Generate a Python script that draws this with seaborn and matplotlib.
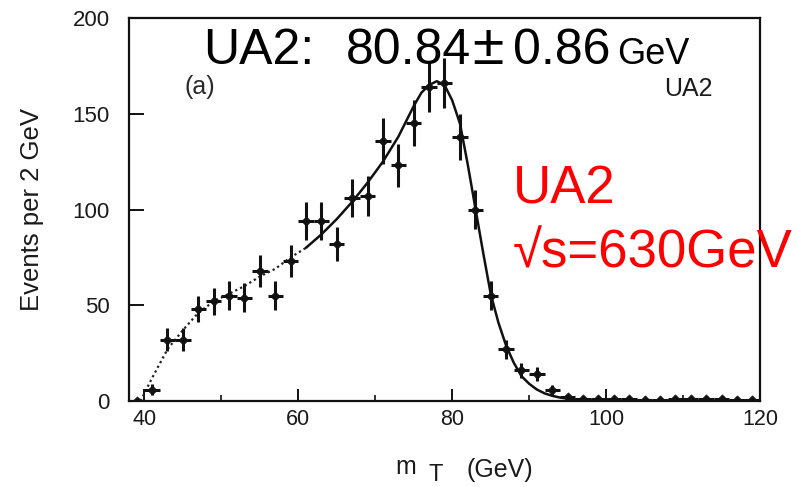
import numpy as np
import pandas as pd
import matplotlib
matplotlib.use("Agg")
import matplotlib.pyplot as plt
import seaborn as sns

# ---- data ----
mt_bins = [39, 41, 43, 45, 47, 49, 51, 53, 55, 57, 59, 61, 63, 65, 67, 69, 71, 73,
           75, 77, 79, 81, 83, 85, 87, 89, 91, 93, 95, 97, 99, 101, 103, 105, 107,
           109, 111, 113, 115, 117, 119]
events = [0, 6, 32, 32, 48, 52, 55, 54, 68, 55, 73, 94, 94, 82, 106, 107, 136, 123,
          145, 164, 166, 138, 100, 55, 27, 16, 14, 6, 2, 1, 1, 1, 1, 0.5, 0.5,
          1, 1, 1, 1, 0.5, 0.5]
event_err = [0.5, 3, 6, 6, 7, 7, 7.5, 7.5, 8.5, 7.5, 8.5, 10, 10, 9, 10, 10.5, 12, 11,
             12, 13, 13, 12, 10, 7.5, 5, 4, 3.5, 2.5, 1.2, 1, 1, 1, 1, 1, 1,
             1, 1, 1, 1, 1, 1]

fit_mt = [39.5, 41, 43, 45, 47, 49, 51, 53, 55, 57, 59, 61, 63, 65, 67, 69, 71, 73,
          74, 75, 76, 77, 78, 79, 80, 81, 82, 83, 84, 85, 86, 87, 88, 89, 90, 91,
          92, 93, 94, 95, 96, 98, 100, 110, 119.5]
fit_val = [0, 12, 27, 37, 46, 52, 56, 60, 65, 69, 75, 80, 87, 95, 104, 114, 125, 138,
           146, 154, 161, 165, 167, 165, 157, 145, 124, 101, 78, 56, 41, 29, 20, 13,
           9, 6, 4, 2.7, 1.8, 1.2, 0.7, 0.3, 0.2, 0.1, 0.1]
dotted_until = 61

x_ticks = [40, 60, 80, 100, 120]
x_minor = [50, 70, 90, 110]
y_ticks = [0, 50, 100, 150, 200]

df_pts = pd.DataFrame({"mt": mt_bins, "n": events, "err": event_err})
df_fit = pd.DataFrame({"mt": fit_mt, "n": fit_val})
df_fit_dot = df_fit[df_fit.mt <= dotted_until]
df_fit_sol = df_fit[df_fit.mt >= dotted_until]

sns.set_theme(style="ticks")
plt.rcParams["font.family"] = ["Liberation Sans", "DejaVu Sans"]

W, H = 797, 487
fig = plt.figure(figsize=(W / 100, H / 100), dpi=100)
ax = fig.add_axes([129 / W, 1 - 401 / H, (760 - 129) / W, (401 - 18) / H])

# fit curve
sns.lineplot(data=df_fit_dot, x="mt", y="n", ax=ax, color="#222222",
             linewidth=1.6, linestyle=(0, (1, 1.4)), estimator=None, sort=False)
sns.lineplot(data=df_fit_sol, x="mt", y="n", ax=ax, color="#111111",
             linewidth=1.8, estimator=None, sort=False)

# data points with error bars
ax.errorbar(df_pts.mt, df_pts.n, yerr=df_pts.err, xerr=1.0, fmt="none",
            ecolor="#111111", elinewidth=2.2, capsize=0, zorder=3)
sns.scatterplot(data=df_pts, x="mt", y="n", ax=ax, color="#111111", marker="D",
                s=22, edgecolor="#111111", linewidth=0.5, zorder=4, legend=False)

ax.set_xlim(38, 120)
ax.set_ylim(0, 200)
ax.set_xticks(x_ticks)
ax.set_xticks(x_minor, minor=True)
ax.set_yticks(y_ticks)
ax.set_xlabel("")
ax.set_ylabel("")
for s in ax.spines.values():
    s.set_linewidth(1.6)
    s.set_color("#111111")
ax.tick_params(axis="x", which="major", direction="in", length=8.5, width=1.4,
               labelsize=15.5, pad=6, colors="#111111", labelcolor="#1a1a1a")
ax.tick_params(axis="x", which="minor", direction="in", length=4, width=1.2,
               colors="#111111")
ax.tick_params(axis="y", which="major", direction="in", length=11, width=1.4,
               labelsize=16, pad=14, colors="#111111", labelcolor="#1a1a1a")

ax.set_ylabel("Events per 2 GeV", fontsize=18.5, color="#1a1a1a", va="center")
ax.yaxis.set_label_coords((32 - 129) / (760 - 129), 0.5)

def ftxt(x, y, s, **kw):
    fig.text(x / W, 1 - y / H, s, ha="left", va="baseline", **kw)

# x label pieces: m  T  (GeV)
ftxt(395, 474, "m", fontsize=18, color="#1a1a1a")
ftxt(429, 481, "T", fontsize=17, color="#1a1a1a")
ftxt(467, 477, "(GeV)", fontsize=18, color="#1a1a1a")

# in-panel labels
ftxt(185, 94, "(a)", fontsize=18, color="#2a2a2a")
ftxt(664, 96, "UA2", fontsize=18, color="#1a1a1a")

# top annotation
ftxt(203, 64, "UA2:", fontsize=36, color="black")
ftxt(346, 64, "80.84", fontsize=36, color="black")
ftxt(472, 64, "\u00b1", fontsize=41, color="black")
ftxt(513, 64, "0.86", fontsize=36, color="black")
ftxt(617, 64, "GeV", fontsize=26, color="black")

# red annotation
ftxt(513, 203, "UA2", fontsize=38, color="#ff0000")
ftxt(513, 268, "\u221as=630GeV", fontsize=38, color="#ff0000")

fig.savefig("out.png", dpi=100)
